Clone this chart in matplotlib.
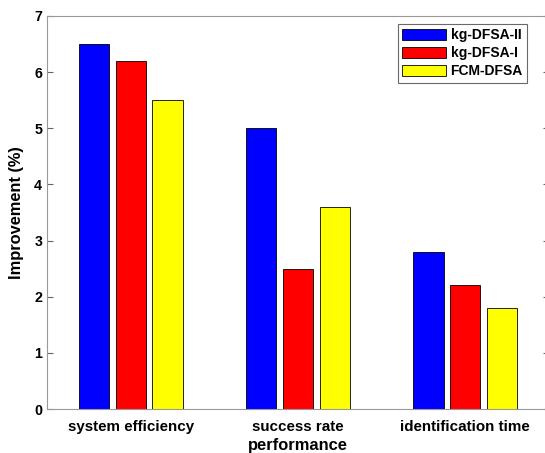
"""Grouped bar chart of improvement per performance metric."""

import matplotlib
matplotlib.use("Agg")
import matplotlib.pyplot as plt
import numpy as np

categories = ["system efficiency", "success rate", "identification time"]
series_names = ["kg-DFSA-II", "kg-DFSA-I", "FCM-DFSA"]
kg_dfsa_ii = [6.5, 5.0, 2.8]
kg_dfsa_i = [6.2, 2.5, 2.2]
fcm_dfsa = [5.5, 3.6, 1.8]
colors = ["#0000ff", "#ff0000", "#ffff00"]

plt.rcParams["font.family"] = ["Liberation Sans", "DejaVu Sans"]
plt.rcParams["font.weight"] = "bold"

fig = plt.figure(figsize=(5.45, 4.53), dpi=100)
ax = fig.add_axes([0.0862, 0.0971, 0.921, 0.8676])

x = np.arange(1, len(categories) + 1)
width = 0.18
offset = 0.22
for i, (vals, name, c) in enumerate(zip([kg_dfsa_ii, kg_dfsa_i, fcm_dfsa], series_names, colors)):
    ax.bar(x + (i - 1) * offset, vals, width, color=c, edgecolor="black",
           linewidth=0.6, label=name)

ax.set_xlim(0.5, 3.5)
ax.set_ylim(0, 7)
ax.set_xticks(x)
ax.set_xticklabels(categories, fontsize=10.9, fontweight="bold")
ax.set_yticks(range(0, 8))
ax.tick_params(axis="y", labelsize=10.3, direction="in", right=True, length=4, color="#666666")
ax.tick_params(axis="x", direction="in", length=0, pad=8)
for lab in ax.get_yticklabels():
    lab.set_fontweight("bold")
for s in ax.spines.values():
    s.set_color("#999999")
    s.set_linewidth(0.8)

ax.set_ylabel("Improvement (%)", fontsize=11.8, fontweight="bold", labelpad=7)
ax.set_xlabel("performance", fontsize=11.9, fontweight="bold", labelpad=3)

leg = ax.legend(loc="upper right", bbox_to_anchor=(527 / 545, 1 - 24 / 453),
                bbox_transform=fig.transFigure, fontsize=10,
                frameon=True, fancybox=False, edgecolor="#444444",
                handlelength=3.2, handleheight=0.9, handletextpad=0.3,
                borderpad=0.3, labelspacing=0.3, borderaxespad=0)
leg.get_frame().set_linewidth(0.8)

fig.savefig("out.png", dpi=100)
